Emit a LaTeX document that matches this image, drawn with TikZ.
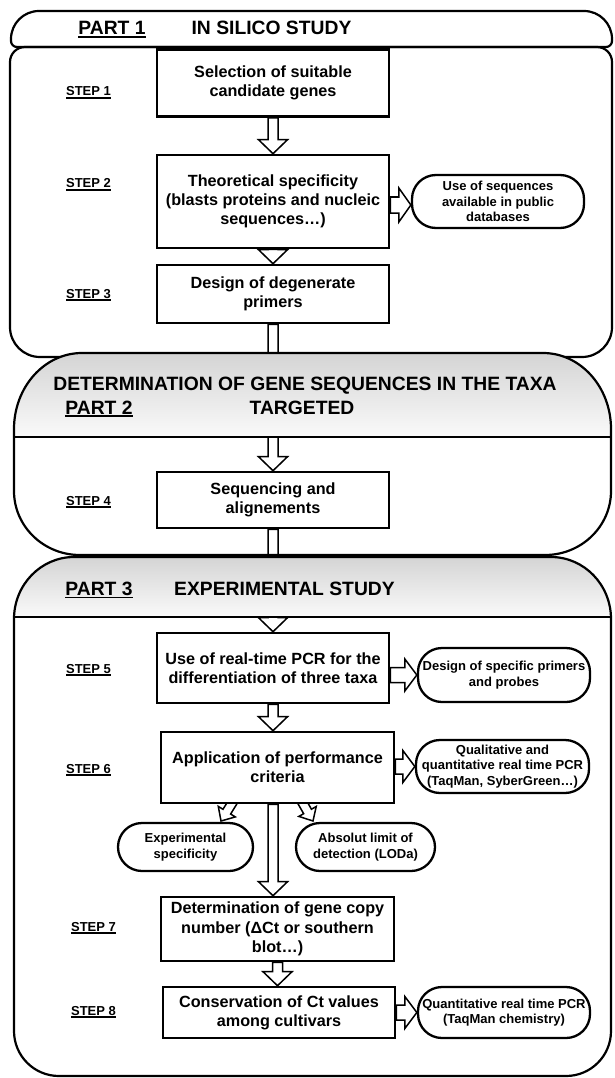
\documentclass[tikz,border=0pt]{standalone}
\usepackage{fontspec}
\setmainfont{Liberation Sans}
\usetikzlibrary{calc}
\pgfdeclarelayer{frames}
\pgfdeclarelayer{arrows}
\pgfdeclarelayer{heads}
\pgfsetlayers{frames,arrows,heads,main}
\newcommand{\myul}[2][1.2pt]{\leavevmode\vtop{\hbox{#2}\kern1.3pt\hrule height #1\relax}}
% #1 shaft half width, #2 head half width, #3 head length, #4 from, #5 to
\newcommand{\garrow}[5]{%
 \coordinate (ga-h) at ($(#5)!#3!(#4)$);
 \path[blockarrow] ($(#4)!#1!90:(#5)$) -- ($(ga-h)!#1!-90:(#4)$) -- ($(ga-h)!#2!-90:(#4)$) -- (#5) -- ($(ga-h)!#2!90:(#4)$) -- ($(ga-h)!#1!90:(#4)$) -- ($(#4)!#1!-90:(#5)$) -- cycle;}
\begin{document}
\begin{tikzpicture}[x=1pt,y=1pt,
 stepbox/.style={draw, line width=2.6pt, fill=white, align=center, inner sep=2pt,
   font=\bfseries\fontsize{16.2}{19.3}\selectfont},
 ovalbox/.style={draw, line width=2.3pt, fill=white, rounded corners=24pt, align=center, inner sep=1pt,
   font=\bfseries\fontsize{13}{15.5}\selectfont},
 steplbl/.style={font=\bfseries\fontsize{13}{15}\selectfont, inner sep=0pt, anchor=base},
 hdr/.style={font=\bfseries\fontsize{19.3}{23}\selectfont, inner sep=0pt, anchor=base},
 partframe/.style={line width=2.2pt, line join=round},
 blockarrow/.style={draw, fill=white, line width=1.5pt, line join=miter}]
\useasboundingbox (0,0) rectangle (615,-1078);

% ---------- boxes ----------
\node[stepbox, minimum width=232pt, minimum height=67pt] (b1) at (273,-83) {Selection of suitable\\candidate genes};
\node[stepbox, minimum width=232pt, minimum height=93pt] (b2) at (273,-201.5) {Theoretical specificity\\(blasts proteins and nucleic\\sequences…)};
\node[stepbox, minimum width=232pt, minimum height=58pt] (b3) at (273,-294) {Design of degenerate\\primers};
\node[stepbox, minimum width=232pt, minimum height=56pt] (b4) at (273,-500) {Sequencing and\\alignements};
\node[stepbox, minimum width=232pt, minimum height=70pt] (b5) at (273,-668) {Use of real-time PCR for the\\differentiation of three taxa};
\node[stepbox, minimum width=233pt, minimum height=71pt] (b6) at (277.5,-767.5) {Application of performance\\criteria};
\node[stepbox, minimum width=233pt, minimum height=64pt] (b7) at (277.5,-929) {Determination of gene copy\\number (ΔCt or southern\\blot…)};
\node[stepbox, minimum width=232pt, minimum height=51pt] (b8) at (279,-1012.5) {Conservation of Ct values\\among cultivars};

% ---------- ovals ----------
\node[ovalbox, minimum width=172pt, minimum height=53pt] (o2) at (498,-201.5) {Use of sequences\\available in public\\databases};
\node[ovalbox, minimum width=172pt, minimum height=54pt] (o5) at (504,-675) {Design of specific primers\\and probes};
\node[ovalbox, minimum width=173pt, minimum height=53pt] (o6) at (502.5,-766.5) {Qualitative and\\quantitative real time PCR\\(TaqMan, SyberGreen…)};
\node[ovalbox, minimum width=172pt, minimum height=51pt] (o8) at (504,-1012.5) {Quantitative real time PCR\\(TaqMan chemistry)};
\node[ovalbox, minimum width=135pt, minimum height=48pt] (oe) at (185.5,-847) {Experimental\\specificity};
\node[ovalbox, minimum width=139pt, minimum height=48pt] (oa) at (365.5,-847) {Absolut limit of\\detection (LODa)};

% ---------- step labels ----------
\node[steplbl] (s1) at (88.5,-96) {\myul{STEP 1}};
\node[steplbl] (s2) at (88.5,-188) {\myul{STEP 2}};
\node[steplbl] (s3) at (88.5,-298) {\myul{STEP 3}};
\node[steplbl] (s4) at (88.5,-505) {\myul{STEP 4}};
\node[steplbl] (s5) at (88.5,-673) {\myul{STEP 5}};
\node[steplbl] (s6) at (88.5,-773) {\myul{STEP 6}};
\node[steplbl] (s7) at (93.5,-931) {\myul{STEP 7}};
\node[steplbl] (s8) at (93.5,-1015) {\myul{STEP 8}};

% ---------- header texts ----------
\node[hdr] (p1) at (112,-35) {\myul[1.8pt]{PART 1}};
\node[hdr] (t1) at (271.5,-35) {IN SILICO STUDY};
\node[hdr] (t2a) at (305,-390) {DETERMINATION OF GENE SEQUENCES IN THE TAXA};
\node[hdr] (p2) at (99,-414) {\myul[1.8pt]{PART 2}};
\node[hdr] (t2b) at (302,-414) {TARGETED};
\node[hdr] (p3) at (99,-595) {\myul[1.8pt]{PART 3}};
\node[hdr] (t3) at (284.5,-595) {EXPERIMENTAL STUDY};

% ---------- part 1 frame ----------
\begin{pgfonlayer}{frames}
\draw[partframe, fill=white] (17,-47) arc[start angle=270,end angle=180,radius=6] -- (11,-39)
  arc[start angle=180,end angle=90,radius=28] -- (584,-11)
  arc[start angle=90,end angle=0,radius=28] -- (612,-41)
  arc[start angle=0,end angle=-90,radius=6] -- cycle;
\draw[partframe] (25,-47) -- (597,-47) arc[start angle=90,end angle=0,radius=15] -- (612,-327)
  arc[start angle=0,end angle=-90,radius=30] -- (40,-357)
  arc[start angle=270,end angle=180,radius=30] -- (10,-62)
  arc[start angle=180,end angle=90,radius=15] -- cycle;
\end{pgfonlayer}

% ---------- arrows ----------
\begin{pgfonlayer}{arrows}
\coordinate (t6) at (b6.north -| b5.south);
\coordinate (f6) at (b6.south -| b5.south);
\coordinate (t7) at (b7.north -| b5.south);
\coordinate (t8) at (b8.north -| b7.south);
\coordinate (r2s) at ($(b2.east)+(0,-3.5)$);
\coordinate (r2e) at ($(o2.west)+(0,-3.5)$);
\coordinate (r5s) at (b5.east |- o5.west);
\coordinate (r6s) at (b6.east |- o6.west);
\coordinate (r8s) at (b8.east |- o8.west);
\coordinate (d1s) at (234,-800);
\coordinate (d1e) at (221,-821);
\coordinate (d2s) at (301,-800);
\coordinate (d2e) at (313,-821);
\garrow{5pt}{14.5pt}{14pt}{b1.south}{b2.north}
\garrow{5pt}{14.5pt}{14pt}{b2.south}{b3.north}
\garrow{5pt}{14.5pt}{14pt}{b3.south}{b4.north}
\garrow{5pt}{14.5pt}{14pt}{b4.south}{b5.north}
\garrow{5pt}{14.5pt}{14pt}{b5.south}{t6}
\garrow{5pt}{14.5pt}{14pt}{f6}{t7}
\garrow{5pt}{14.5pt}{14pt}{b7.south}{t8}
\garrow{8pt}{17pt}{12pt}{r2s}{r2e}
\garrow{7.5pt}{16pt}{12pt}{r5s}{o5.west}
\garrow{7.5pt}{16pt}{12pt}{r6s}{o6.west}
\garrow{7.5pt}{16pt}{12pt}{r8s}{o8.west}
\garrow{4.5pt}{10pt}{11pt}{d1s}{d1e}
\garrow{4.5pt}{10pt}{11pt}{d2s}{d2e}
\end{pgfonlayer}

% ---------- parts 2 and 3 ----------
\begin{pgfonlayer}{heads}
\begin{scope}
\clip (14,-429) arc[start angle=180,end angle=90,x radius=68,y radius=76] -- (543,-353)
  arc[start angle=90,end angle=0,x radius=68,y radius=76] -- (611,-491)
  arc[start angle=0,end angle=-90,x radius=66,y radius=64] -- (80,-555)
  arc[start angle=270,end angle=180,x radius=66,y radius=64] -- cycle;
\shade[top color=black!17, bottom color=black!2] (10,-352) rectangle (615,-437);
\end{scope}
\draw[partframe] (14,-429) arc[start angle=180,end angle=90,x radius=68,y radius=76] -- (543,-353)
  arc[start angle=90,end angle=0,x radius=68,y radius=76] -- (611,-491)
  arc[start angle=0,end angle=-90,x radius=66,y radius=64] -- (80,-555)
  arc[start angle=270,end angle=180,x radius=66,y radius=64] -- cycle;
\draw[partframe] (14,-437) -- (611,-437);
\begin{scope}
\clip (14,-619) arc[start angle=180,end angle=90,x radius=60,y radius=62] -- (551,-557)
  arc[start angle=90,end angle=0,x radius=60,y radius=62] -- (611,-1031)
  arc[start angle=0,end angle=-90,radius=45] -- (59,-1076)
  arc[start angle=270,end angle=180,radius=45] -- cycle;
\shade[top color=black!17, bottom color=black!2] (10,-556) rectangle (615,-617);
\end{scope}
\draw[partframe] (14,-619) arc[start angle=180,end angle=90,x radius=60,y radius=62] -- (551,-557)
  arc[start angle=90,end angle=0,x radius=60,y radius=62] -- (611,-1031)
  arc[start angle=0,end angle=-90,radius=45] -- (59,-1076)
  arc[start angle=270,end angle=180,radius=45] -- cycle;
\draw[partframe] (14,-617) -- (611,-617);
\end{pgfonlayer}
\end{tikzpicture}
\end{document}
